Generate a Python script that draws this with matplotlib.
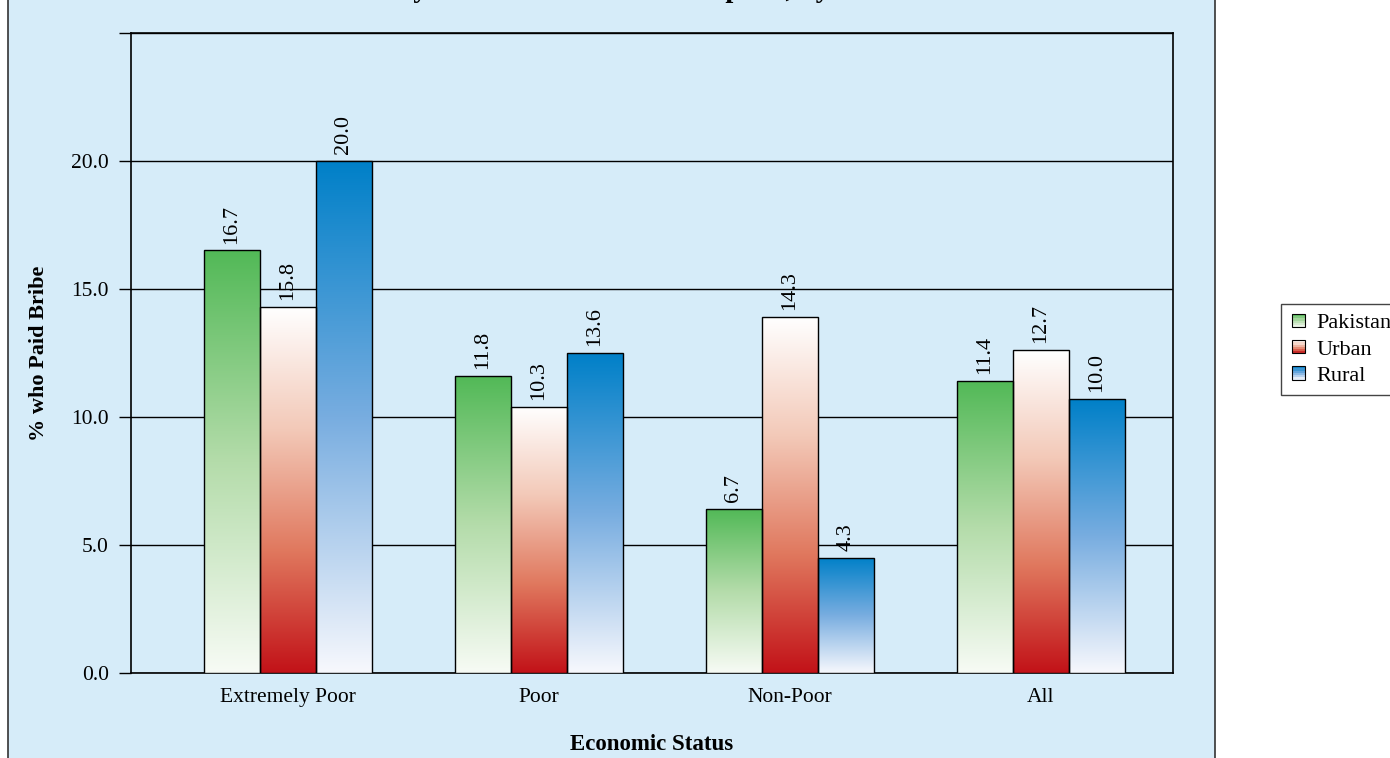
import numpy as np
import matplotlib
matplotlib.use('Agg')
import matplotlib.pyplot as plt
from matplotlib.colors import LinearSegmentedColormap
from matplotlib.patches import Rectangle
from matplotlib.legend_handler import HandlerBase

plt.rcParams['font.family'] = ['Liberation Serif', 'DejaVu Serif']

# data
categories = ['Extremely Poor', 'Poor', 'Non-Poor', 'All']
series = ['Pakistan', 'Urban', 'Rural']
# bar heights as drawn
pakistan = [16.5, 11.6, 6.4, 11.4]
urban = [14.3, 10.4, 13.9, 12.6]
rural = [20.0, 12.5, 4.5, 10.7]
# value labels as printed above the bars
pakistan_lbl = ['16.7', '11.8', '6.7', '11.4']
urban_lbl = ['15.8', '10.3', '14.3', '12.7']
rural_lbl = ['20.0', '13.6', '4.3', '10.0']
yticks = [0, 5, 10, 15, 20, 25]
ytick_labels = ['0.0', '5.0', '10.0', '15.0', '20.0', '']

title = 'Chart 3.5: Prevalence of Bribery for Own Business/Enterprise, by Economic Status'

panel_bg = '#d6ecf9'

# gradients, bottom -> top
cmaps = [
    LinearSegmentedColormap.from_list('g', ['#f7fbf5', '#b4dcaa', '#52b957']),
    LinearSegmentedColormap.from_list('r', ['#c21218', '#e0785e', '#f3c9b8', '#ffffff']),
    LinearSegmentedColormap.from_list('b', ['#f7f8fd', '#78ade0', '#0080c8']),
]


class GradientHandler(HandlerBase):
    def __init__(self, cmap):
        super().__init__()
        self.cmap = cmap

    def create_artists(self, legend, orig_handle, xdescent, ydescent,
                       width, height, fontsize, trans):
        side = min(width, height) * 0.85
        x0 = -xdescent + (width - side) / 2
        y0 = -ydescent + (height - side) / 2
        n = 6
        arts = []
        for k in range(n):
            c = self.cmap((k + 0.5) / n)
            arts.append(Rectangle((x0, y0 + side * k / n), side, side / n,
                                  facecolor=c, edgecolor='none', transform=trans))
        arts.append(Rectangle((x0, y0), side, side, facecolor='none',
                              edgecolor='black', lw=0.8, transform=trans))
        return arts


fig = plt.figure(figsize=(13.9, 7.58), dpi=100)
fig.patches.append(Rectangle((8 / 1390, -0.01), (1215 - 8) / 1390, 1.02,
                             transform=fig.transFigure, facecolor=panel_bg,
                             edgecolor='#333333', lw=1.2, zorder=-10))

ax = fig.add_axes([0.0942, 0.1125, 0.7496, 0.8440])
ax.set_facecolor(panel_bg)

x = np.arange(len(categories))
w = 0.223
all_vals = [pakistan, urban, rural]
all_lbls = [pakistan_lbl, urban_lbl, rural_lbl]

for i, (vals, lbls, cm) in enumerate(zip(all_vals, all_lbls, cmaps)):
    bars = ax.bar(x + (i - 1) * w, vals, w, facecolor='none', edgecolor='black',
                  lw=1.0, zorder=4)
    grad = cm(np.linspace(0, 1, 256))[:, None, :3]
    for b, lab in zip(bars, lbls):
        bx, bw, bh = b.get_x(), b.get_width(), b.get_height()
        im = ax.imshow(grad, extent=[bx, bx + bw, 0, bh], origin='lower',
                       aspect='auto', zorder=3, interpolation='bilinear')
        im.set_clip_path(b)
        ax.annotate(lab, (bx + bw / 2, bh), xytext=(0, 5), textcoords='offset points',
                    ha='center', va='bottom', rotation=90, fontsize=16, zorder=5)

ax.set_xlim(-0.6255, 3.526)
ax.set_ylim(0, 25)
ax.set_yticks(yticks)
ax.set_yticklabels(ytick_labels, fontsize=15.5)
ax.set_xticks(x)
ax.set_xticklabels(categories, fontsize=15.5)
ax.tick_params(axis='x', length=0, pad=11)
ax.tick_params(axis='y', length=9, width=1, pad=7, direction='out')
ax.yaxis.grid(True, color='black', lw=1.0)
ax.set_axisbelow(True)
for s in ax.spines.values():
    s.set_color('black')
    s.set_linewidth(1.2)

ax.set_ylabel('% who Paid Bribe', fontsize=16, fontweight='bold')
ax.yaxis.set_label_coords(-0.0787, 0.5)
ax.set_xlabel('Economic Status', fontsize=16.5, fontweight='bold')
ax.xaxis.set_label_coords(0.5, -0.095)

# the title sits mostly above the top edge, as in the source
fig.text(30 / 1390, 1 + 3 / 758, title, fontsize=20.5, fontweight='bold',
         ha='left', va='baseline')

handles = [Rectangle((0, 0), 1, 1) for _ in series]
fig.legend(handles, series, loc='upper left',
           bbox_to_anchor=(1281 / 1390, 1 - 304 / 758),
           handler_map={h: GradientHandler(c) for h, c in zip(handles, cmaps)},
           fontsize=16, frameon=True, fancybox=False, edgecolor='#444444',
           framealpha=1, handlelength=0.75, handletextpad=0.45, labelspacing=0.25,
           borderpad=0.4, borderaxespad=0)

fig.savefig('out.png', dpi=100)
